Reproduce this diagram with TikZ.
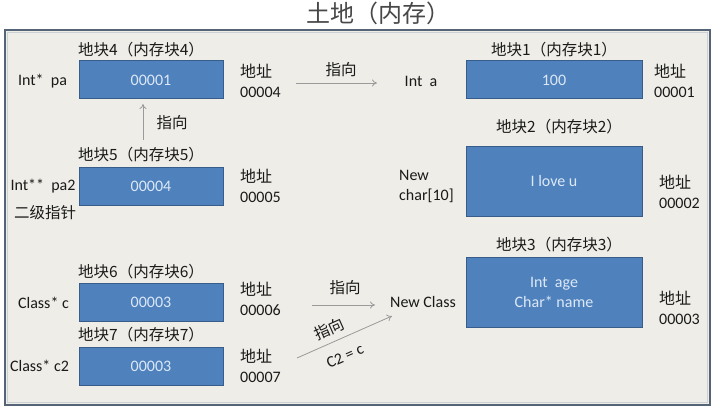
\documentclass[tikz,border=0pt]{standalone}
\usepackage{fontspec}
\usetikzlibrary{arrows.meta}
\setmainfont{Carlito}
\newfontfamily\cjk{Noto Sans CJK SC}
\definecolor{bgc}{HTML}{EEEDE7}
\definecolor{framec}{HTML}{556477}
\definecolor{boxfill}{HTML}{4F81BD}
\definecolor{boxline}{HTML}{385D8A}
\definecolor{boxtext}{HTML}{DCE8F6}
\definecolor{arrc}{HTML}{9A9A9A}
\definecolor{txt}{HTML}{1A1A1A}
\begin{document}
\begin{tikzpicture}[x=1pt,y=-1pt,
  mem/.style={rectangle,fill=boxfill,draw=boxline,line width=1pt,text=boxtext,
    font=\fontsize{16}{20}\selectfont,align=center,inner sep=0pt},
  small/.style={mem,minimum width=144pt,minimum height=38pt},
  big/.style={mem,minimum width=176pt,minimum height=38pt},
  tall/.style={mem,minimum width=176pt,minimum height=70pt},
  lbl/.style={text=txt,font=\cjk\fontsize{15.5}{18}\selectfont,inner sep=0pt},
  var/.style={text=txt,font=\fontsize{16}{20}\selectfont,inner sep=0pt,align=left},
  addr/.style={text=txt,font=\fontsize{16}{20}\selectfont,inner sep=0pt,align=left,anchor=west},
  arr/.style={draw=arrc,line width=0.8pt,-{To[length=5pt,width=7pt]}},
  lab/.style={text=txt,font=\cjk\fontsize{15.5}{18}\selectfont,inner sep=0pt}
]
\useasboundingbox (0,0) rectangle (718,412);
\fill[white] (0,0) rectangle (718,412);
\draw[fill=bgc,draw=framec,line width=2pt] (5,30) rectangle (710,405);
\draw[draw=white!70!framec,line width=0.6pt] (7.5,32.5) rectangle (707.5,402.5);
\node[text=txt!80,font=\cjk\fontsize{24}{26}\selectfont,inner sep=0pt] (title) at (378,13.5) {土地（内存）};

% left column
\node[small] (b4) at (151,80) {00001};
\node[lbl] (l4) at (141,50) {地块4（内存块4）};
\node[var] (v4) at (42.5,81) {Int*\ \ pa};
\node[addr] (a4) at (240,80.5) {{\cjk 地址}\\00004};

\node[small] (b5) at (151,186.5) {00004};
\node[lbl] (l5) at (141,155) {地块5（内存块5）};
\node[var] (v5) at (43,186) {Int**\ \ pa2};
\node[lbl] (v5b) at (45,213) {二级指针};
\node[addr] (a5) at (240,185.5) {{\cjk 地址}\\00005};

\node[small] (b6) at (151,302.5) {00003};
\node[lbl] (l6) at (141,272) {地块6（内存块6）};
\node[var] (v6) at (43.5,303) {Class* c};
\node[addr] (a6) at (240,298.5) {{\cjk 地址}\\00006};

\node[small] (b7) at (151,366) {00003};
\node[lbl] (l7) at (141,335) {地块7（内存块7）};
\node[var] (v7) at (39.5,366) {Class* c2};
\node[addr] (a7) at (240,366) {{\cjk 地址}\\00007};

% right column
\node[big] (b1) at (554,80) {100};
\node[lbl] (l1) at (554,50) {地块1（内存块1）};
\node[var] (inta) at (421,81) {Int\ \ a};
\node[addr] (a1) at (654,80.5) {{\cjk 地址}\\00001};

\node[tall] (b2) at (554,181) {I love u};
\node[lbl] (l2) at (559,127) {地块2（内存块2）};
\node[var,anchor=west] (newc) at (399,186) {New\\char[10]};
\node[addr] (a2) at (659,192) {{\cjk 地址}\\00002};

\node[tall] (b3) at (554,292) {Int\ \ age\\Char* name};
\node[lbl] (l3) at (559,245) {地块3（内存块3）};
\node[var] (newcl) at (423,302) {New Class};
\node[addr] (a3) at (659,308) {{\cjk 地址}\\00003};

% connectors
\coordinate (s1) at (296,83);
\coordinate (e1) at (377,83);
\draw[arr] (s1) -- (e1);
\node[lab] (t1) at (341,70) {指向};

\coordinate (vs) at (143,140);
\coordinate (ve) at (143,104);
\draw[arr] (vs) -- (ve);
\node[lab] (t2) at (172,123) {指向};

\coordinate (s6) at (312,305);
\coordinate (e6) at (375,305);
\draw[arr] (s6) -- (e6);
\node[lab] (t3) at (345,288) {指向};

\coordinate (d1) at (297,358);
\coordinate (d2) at (392,316);
\draw[arr] (d1) -- (d2);
\node[lab,rotate=24] (t4) at (329,329) {指向};
\node[text=txt,font=\fontsize{16}{18}\selectfont,inner sep=0pt,rotate=24] (t5) at (345,356) {C2 = c};
\end{tikzpicture}
\end{document}
